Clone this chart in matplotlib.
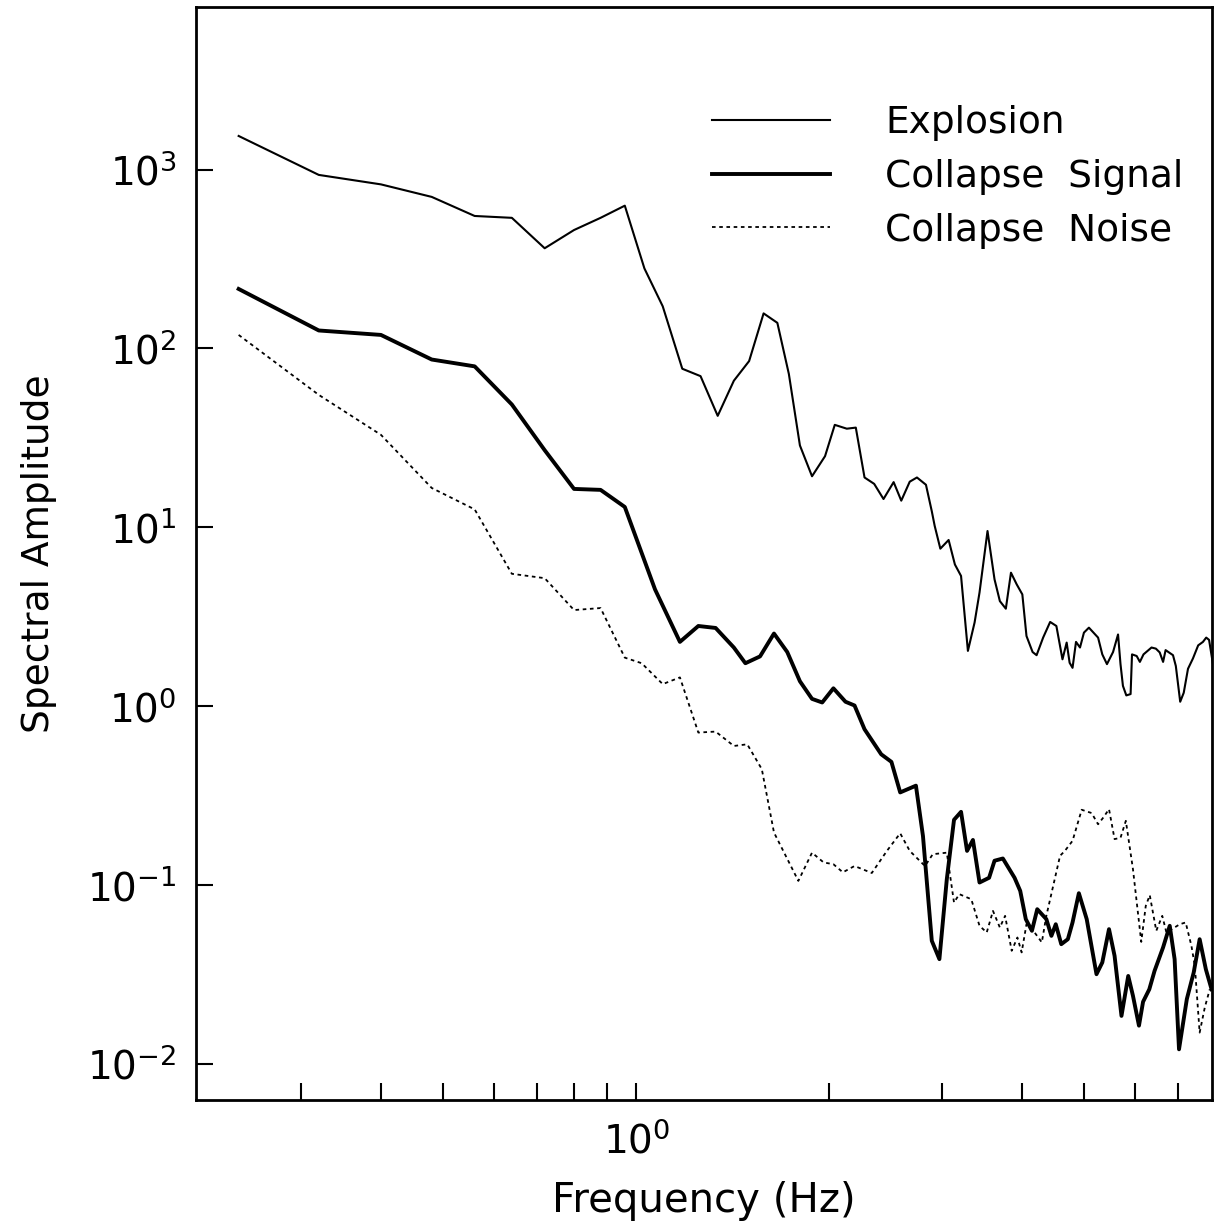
import matplotlib
matplotlib.use('Agg')
import matplotlib.pyplot as plt
from matplotlib.ticker import NullLocator, NullFormatter, FixedLocator

# Spectra (frequency in Hz, amplitude)
f_explosion = [0.24, 0.32, 0.40, 0.48, 0.56, 0.64, 0.72, 0.80, 0.88, 0.96,
               1.03, 1.10, 1.18, 1.26, 1.34, 1.42, 1.50, 1.58, 1.66, 1.73,
               1.80, 1.88, 1.97, 2.04, 2.13, 2.20, 2.27, 2.35, 2.43, 2.52,
               2.59, 2.67, 2.74, 2.83, 2.89, 2.92, 2.98, 3.07, 3.14, 3.21,
               3.29, 3.37, 3.43, 3.53, 3.62, 3.69, 3.77, 3.84, 3.92, 4.00,
               4.06, 4.15, 4.21, 4.31, 4.42, 4.52, 4.62, 4.69, 4.74, 4.79,
               4.85, 4.92, 4.99, 5.08, 5.25, 5.33, 5.42, 5.54, 5.64, 5.69,
               5.74, 5.81, 5.90, 5.93, 6.03, 6.10, 6.18, 6.36, 6.46, 6.55,
               6.63, 6.69, 6.87, 6.94, 7.05, 7.14, 7.25, 7.38, 7.52, 7.65,
               7.74, 7.82, 7.93]
a_explosion = [1540, 933, 826, 703, 550, 537, 363, 459, 537, 628,
               280, 172, 77, 70, 42, 66, 85, 157, 139, 72,
               28.7, 19.3, 25, 37.4, 35.6, 36.1, 19.0, 17.5, 14.4, 17.9,
               14.1, 18.0, 19.0, 17.3, 12.3, 10.2, 7.6, 8.5, 6.2, 5.35,
               2.04, 2.94, 4.32, 9.54, 5.12, 3.87, 3.51, 5.58, 4.80, 4.22,
               2.47, 2.01, 1.93, 2.42, 2.96, 2.81, 1.83, 2.27, 1.75, 1.64,
               2.29, 2.13, 2.58, 2.75, 2.42, 1.95, 1.72, 2.01, 2.52, 1.72,
               1.30, 1.15, 1.17, 1.95, 1.91, 1.77, 1.95, 2.13, 2.10, 2.00,
               1.77, 2.06, 1.93, 1.68, 1.06, 1.19, 1.62, 1.85, 2.19, 2.29,
               2.42, 2.35, 1.72]

f_signal = [0.24, 0.32, 0.40, 0.48, 0.56, 0.64, 0.72, 0.80, 0.88, 0.96,
            1.07, 1.17, 1.25, 1.33, 1.42, 1.48, 1.56, 1.64, 1.72, 1.80,
            1.88, 1.95, 2.03, 2.12, 2.19, 2.27, 2.41, 2.50, 2.58, 2.73,
            2.80, 2.89, 2.97, 3.05, 3.13, 3.21, 3.28, 3.35, 3.43, 3.55,
            3.62, 3.73, 3.89, 3.97, 4.05, 4.14, 4.22, 4.36, 4.44, 4.51,
            4.60, 4.71, 4.79, 4.90, 5.04, 5.22, 5.33, 5.46, 5.57, 5.71,
            5.85, 5.95, 6.08, 6.17, 6.31, 6.43, 6.63, 6.79, 6.91, 7.02,
            7.22, 7.40, 7.56, 7.73, 7.89]
a_signal = [215, 126, 119, 86.7, 79.4, 48.6, 27, 16.4, 16.2, 13,
            4.5, 2.29, 2.81, 2.74, 2.13, 1.74, 1.90, 2.55, 2.01, 1.38,
            1.10, 1.05, 1.26, 1.06, 1.01, 0.744, 0.539, 0.489, 0.330, 0.360,
            0.188, 0.0489, 0.0386, 0.108, 0.232, 0.257, 0.1555, 0.179, 0.1035, 0.110,
            0.137, 0.141, 0.110, 0.0929, 0.0646, 0.0556, 0.0734, 0.0646, 0.0521, 0.0605,
            0.0468, 0.0499, 0.0619, 0.0902, 0.0646, 0.0318, 0.0370, 0.0568, 0.0403, 0.0186,
            0.0311, 0.0241, 0.0164, 0.0223, 0.0262, 0.0332, 0.0449, 0.0593, 0.0386, 0.0121,
            0.0231, 0.0325, 0.0499, 0.0339, 0.0262]

f_noise = [0.24, 0.32, 0.40, 0.48, 0.56, 0.64, 0.72, 0.80, 0.88, 0.96,
           1.02, 1.10, 1.17, 1.25, 1.33, 1.42, 1.49, 1.57, 1.64, 1.79,
           1.88, 1.96, 2.03, 2.10, 2.19, 2.33, 2.46, 2.58, 2.67, 2.82,
           2.90, 3.05, 3.13, 3.19, 3.33, 3.43, 3.52, 3.60, 3.69, 3.76,
           3.85, 3.93, 3.99, 4.06, 4.18, 4.29, 4.36, 4.58, 4.66, 4.79,
           4.95, 5.13, 5.25, 5.35, 5.46, 5.57, 5.69, 5.80, 5.95, 6.13,
           6.23, 6.32, 6.47, 6.61, 6.71, 7.04, 7.19, 7.34, 7.43, 7.56,
           7.70, 7.84]
a_noise = [119, 55, 32.9, 16.6, 12.6, 5.5, 5.2, 3.45, 3.54, 1.87,
           1.74, 1.33, 1.45, 0.713, 0.722, 0.600, 0.613, 0.445, 0.197, 0.1057,
           0.152, 0.134, 0.131, 0.118, 0.128, 0.117, 0.1555, 0.195, 0.1555, 0.128,
           0.149, 0.152, 0.080, 0.0891, 0.0835, 0.0593, 0.0544, 0.0718, 0.0580, 0.0674,
           0.0430, 0.0510, 0.0421, 0.0605, 0.0544, 0.0479, 0.0674, 0.146, 0.1555, 0.177,
           0.264, 0.253, 0.219, 0.239, 0.266, 0.181, 0.184, 0.229, 0.123, 0.0482,
           0.0766, 0.0880, 0.0556, 0.0674, 0.0544, 0.0605, 0.0619, 0.0458, 0.0354, 0.0150,
           0.0207, 0.0262]

y_ticks = [1e-2, 1e-1, 1e0, 1e1, 1e2, 1e3]

fig = plt.figure(figsize=(12.18, 12.24), dpi=100)
ax = fig.add_axes([0.161, 0.1013, 0.834, 0.893])

ax.plot(f_explosion, a_explosion, color='black', lw=1.5, label='Explosion')
ax.plot(f_signal, a_signal, color='black', lw=2.8, label='Collapse  Signal')
ax.plot(f_noise, a_noise, color='black', lw=1.3, linestyle=(0, (2, 2)), label='Collapse  Noise')

ax.set_xscale('log')
ax.set_yscale('log')
ax.set_xlim(0.206, 7.9)
ax.set_ylim(6.3e-3, 8.1e3)

# ticks: inward, bottom and left only, no minor ticks on y
ax.yaxis.set_major_locator(FixedLocator(y_ticks))
ax.yaxis.set_minor_locator(NullLocator())
ax.xaxis.set_minor_formatter(NullFormatter())
ax.tick_params(which='both', direction='in', top=False, right=False,
               length=12, width=1.5, labelsize=28)
ax.tick_params(axis='y', pad=14)
ax.tick_params(axis='x', pad=16)
for s in ax.spines.values():
    s.set_linewidth(2)

ax.set_xlabel('Frequency (Hz)', fontsize=29, labelpad=14)
ax.set_ylabel('Spectral Amplitude', fontsize=27, labelpad=22)

leg = ax.legend(loc='center left', bbox_to_anchor=(0.508, 0.8445), frameon=False,
                fontsize=27, handlelength=3.15, handletextpad=1.47, labelspacing=0.47,
                borderpad=0, borderaxespad=0)

plt.savefig('out.png', dpi=100)
